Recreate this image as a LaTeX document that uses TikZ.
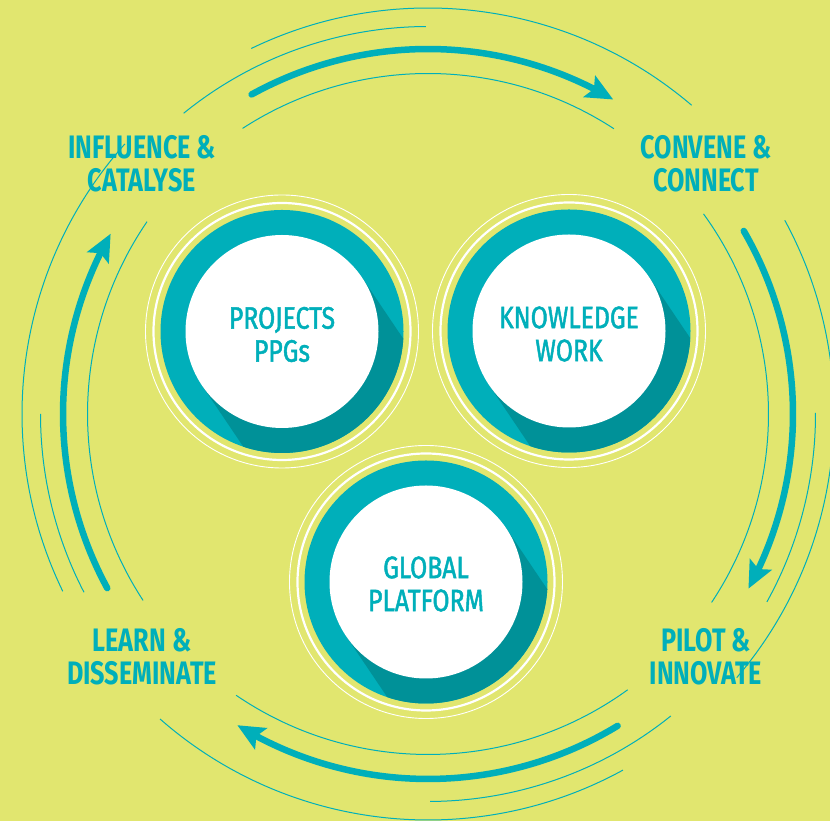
\documentclass[tikz,border=0pt]{standalone}
\usepackage{fontspec}
\setmainfont{Fira Sans}
\newfontfamily\circfont{Fira Sans}[FakeStretch=0.8,FakeBold=1.5]
\newfontfamily\labfont{Fira Sans}[FakeStretch=0.775]
\usetikzlibrary{arrows.meta,bending,calc}
\definecolor{bgyellow}{RGB}{225,230,111}
\definecolor{tealA}{RGB}{0,175,186}
\definecolor{tealD}{RGB}{0,145,152}
\newcommand\ringarc[4]{\draw[#1] ($(C)+(#3:#2)$) arc[start angle=#3,end angle=#4,radius=#2];}
\newcommand\hubback[1]{%
  \fill[tealA] (#1) circle[radius=121.5];
  \begin{scope}
    \clip (#1) circle[radius=121.5];
    \fill[tealD] ($(#1)+(34:96.5)$) -- ++(-56:300) -- ++(214:193) -- ++(124:300) -- cycle;
  \end{scope}
  \draw[ringw] (#1) circle[radius=128.5];
  \draw[ringt] (#1) circle[radius=136.5];
}
\begin{document}
\begin{tikzpicture}[x=1pt,y=1pt,
  thinarc/.style={draw=tealA, line width=1pt},
  thickarc/.style={draw=tealA, line width=6.5pt, line cap=round, -{Stealth[length=27pt,width=24pt,inset=5pt]}},
  hub/.style={circle, fill=white, minimum size=193pt, inner sep=0pt},
  hubtext/.style={inner sep=0pt, text=tealA, font=\circfont\fontsize{31}{33}\selectfont, align=center},
  lab/.style={text=tealA, font=\labfont\bfseries\fontsize{32.5}{33}\selectfont, align=center, inner sep=0pt},
  ringw/.style={draw=white, line width=2.2pt},
  ringt/.style={draw=white, line width=0.9pt}]
\useasboundingbox (0,0) rectangle (830,821);
\clip (0,0) rectangle (830,821);
\fill[bgyellow] (0,0) rectangle (830,821);
\coordinate (C) at (428,407);
\coordinate (cA) at (282,489.5);
\coordinate (cB) at (569,490);
\coordinate (cC) at (426,239);
% hubs
\hubback{cA}
\hubback{cB}
\hubback{cC}
\node[hub] (A) at (cA) {};
\node[hub] (B) at (cB) {};
\node[hub] (G) at (cC) {};
\node[hubtext] (At) at ($(cA)+(0,-3)$) {PROJECTS\\PPGs};
\node[hubtext] (Bt) at ($(cB)+(0,-3)$) {KNOWLEDGE\\WORK};
\node[hubtext] (Gt) at ($(cC)+(0,-2)$) {GLOBAL\\PLATFORM};
% labels
\node[lab] (infl) at (142,657) {INFLUENCE \&\\CATALYSE};
\node[lab] (conv) at (706,657) {CONVENE \&\\CONNECT};
\node[lab] (learn) at (142,164) {LEARN \&\\DISSEMINATE};
\node[lab] (pilot) at (706,164) {PILOT \&\\INNOVATE};
% top
\ringarc{thinarc}{406}{49.5}{115.8}
\ringarc{thinarc}{387.5}{90.3}{129.1}
\ringarc{thickarc}{365}{118.9}{59.5}
\ringarc{thinarc}{340.5}{56.9}{123}
% right
\ringarc{thinarc}{406}{-40.5}{28.5}
\ringarc{thinarc}{387.5}{-29}{0.15}
\ringarc{thickarc}{365}{30.1}{-28.6}
\ringarc{thinarc}{340.5}{-33.6}{36}
% bottom
\ringarc{thinarc}{406}{228.7}{298.7}
\ringarc{thinarc}{387.5}{270.3}{308.8}
\ringarc{thickarc}{365}{301.3}{238.5}
\ringarc{thinarc}{340.5}{235.7}{305.9}
% left
\ringarc{thinarc}{406}{138.3}{205.9}
\ringarc{thinarc}{387.5}{180}{207.4}
\ringarc{thickarc}{365}{208.5}{150.4}
\ringarc{thinarc}{340.5}{145.6}{213.2}
\end{tikzpicture}
\end{document}
